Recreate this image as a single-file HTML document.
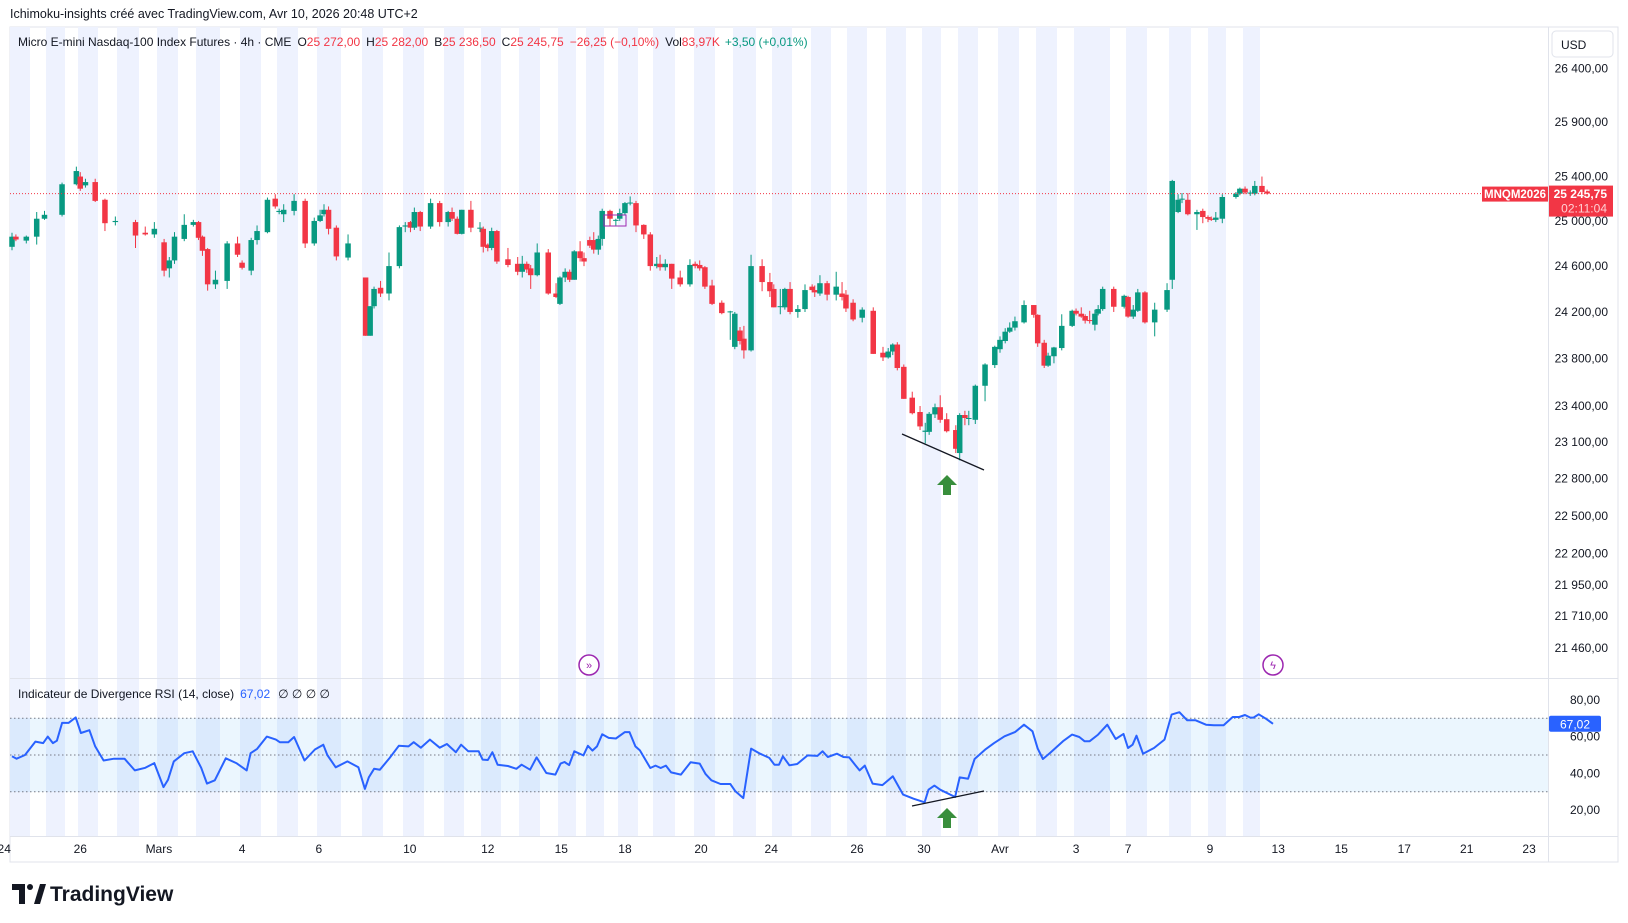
<!DOCTYPE html>
<html><head><meta charset="utf-8"><style>
html,body{margin:0;padding:0;background:#fff;}
svg{display:block;font-family:"Liberation Sans",sans-serif;}
</style></head><body>
<svg id="chart" width="1628" height="923" viewBox="0 0 1628 923" xmlns="http://www.w3.org/2000/svg">
<text x="10" y="18" font-size="12.5" fill="#131722">Ichimoku-insights créé avec TradingView.com, Avr 10, 2026 20:48 UTC+2</text>
<rect x="10" y="27" width="1608" height="835" fill="#fff" stroke="#e0e3eb"/>
<g id="stripes"></g>
<rect x="10" y="718" width="1538" height="74" fill="rgba(33,150,243,0.09)"/>
<g id="grid"></g>
<g id="candles"></g>
<g id="rsi"></g>
<g id="axes"></g>
<line x1="10" y1="678.5" x2="1618" y2="678.5" stroke="#e0e3eb"/>
<line x1="10" y1="836.5" x2="1618" y2="836.5" stroke="#e0e3eb"/>
<line x1="1548.5" y1="27" x2="1548.5" y2="862" stroke="#e0e3eb"/>
<text x="18" y="46" font-size="12" fill="#131722"><tspan>Micro E-mini Nasdaq-100 Index Futures · 4h · CME</tspan><tspan dx="6">O</tspan><tspan fill="#f23645">25 272,00</tspan><tspan dx="6">H</tspan><tspan fill="#f23645">25 282,00</tspan><tspan dx="6">B</tspan><tspan fill="#f23645">25 236,50</tspan><tspan dx="6">C</tspan><tspan fill="#f23645">25 245,75</tspan><tspan dx="6" fill="#f23645">−26,25 (−0,10%)</tspan><tspan dx="6">Vol</tspan><tspan fill="#f23645">83,97K</tspan><tspan dx="5" fill="#089981">+3,50 (+0,01%)</tspan></text>
<text x="18" y="698" font-size="12" fill="#131722"><tspan>Indicateur de Divergence RSI (14, close)</tspan><tspan dx="6" fill="#2962ff">67,02</tspan><tspan dx="8">∅  ∅  ∅  ∅</tspan></text>
<rect x="1552" y="31" width="61" height="26" rx="4" fill="#fff" stroke="#e0e3eb"/>
<text x="1561" y="49" font-size="12" fill="#131722">USD</text>
<g>
<line x1="902" y1="434" x2="984" y2="470" stroke="#131722" stroke-width="1.3"/>
<path d="M947 475 L957 485 L951 485 L951 495 L943 495 L943 485 L937 485 Z" fill="#388e3c"/>
</g>
<g>
<line x1="912" y1="806" x2="984" y2="791" stroke="#131722" stroke-width="1.3"/>
<path d="M947 808 L957 818 L951 818 L951 828 L943 828 L943 818 L937 818 Z" fill="#388e3c"/>
</g>
<rect x="604" y="215" width="22" height="11" fill="none" stroke="#9c27b0" stroke-width="1"/>
<g><circle cx="589" cy="665" r="10" fill="#fff" stroke="#9c27b0" stroke-width="1.5"/><text x="589" y="669" font-size="11" text-anchor="middle" fill="#9c27b0">»</text></g>
<g><circle cx="1273" cy="665" r="10" fill="#fff" stroke="#9c27b0" stroke-width="1.5"/><text x="1273" y="669" font-size="11" text-anchor="middle" fill="#9c27b0">ϟ</text></g>
<g>
<path d="M12 884 H25 V904 H19 V890 H12 Z" fill="#131722"/><circle cx="30" cy="887" r="3" fill="#131722"/><path d="M34 904 L40 884 H46 L40 904 Z" fill="#131722"/>
<text x="50" y="901" font-size="21" font-weight="bold" fill="#131722">TradingView</text>
</g>
</svg>
<script>
const bars=[0.0,0.6,2.2,3.8,5.0,7.7,9.9,10.5,11.3,12.8,14.3,15.9,19.0,20.5,21.9,23.4,24.2,25.0,26.5,27.9,28.7,29.3,30.1,31.3,33.1,34.7,35.4,36.8,37.7,39.3,40.5,41.1,41.8,43.4,45.1,46.5,47.4,48.0,48.7,49.9,51.7,54.4,55.1,55.7,56.7,58.0,59.6,60.5,61.3,61.9,62.8,64.4,
65.8,67.1,67.7,68.5,69.2,70.6,72.0,72.5,73.2,73.8,74.6,76.3,77.8,78.5,79.2,79.8,80.8,82.5,83.7,84.3,85.1,85.8,86.5,87.4,88.0,88.9,89.5,90.2,90.8,92.0,92.9,93.5,94.3,95.1,96.0,97.2,98.2,99.2,99.7,100.5,101.5,102.8,104.3,105.1,105.8,106.6,107.7,109.2,110.5,111.2,112.0,112.6,113.7,115.4,116.6,117.2,118.2,118.9,119.7,120.9,122.0,123.1,123.5,124.3,125.4,126.8,127.7,128.3,129.4,
130.8,132.5,134.0,134.8,135.5,136.2,137.2,138.5,139.7,140.5,141.1,142.0,142.8,143.8,145.2,145.8,146.6,147.2,148.2,149.7,151.2,152.0,152.8,153.5,154.3,155.7,157.2,157.8,158.8,159.4,160.3,161.5,163.1,163.7,164.5,165.1,165.8,166.6,167.1,167.8,169.5,171.1,171.7,172.5,173.2,174.3,175.8,177.7,178.5,179.4,180.0,180.9,182.3,183.2,184.0,184.5,185.2,186.2,188.3,188.9,189.7,190.5,191.2,192.3,193.1];
const opens=[24770,24860,24825,24860,25020,25055,25330,25400,25320,25350,25190,24990,24990,24895,24880,24810,24580,24650,24840,24965,24990,24860,24750,24440,24470,24800,24630,24560,24830,24900,25200,25080,25060,25090,25180,24800,25000,25060,25100,24940,24675,24500,23995,24250,24410,24360,24600,24950,24990,24940,25080,24950,
25160,24990,25080,25020,24885,25100,24940,24930,24790,24760,24910,24660,24620,24550,24620,24580,24520,24720,24360,24270,24500,24550,24480,24730,24670,24830,24830,24745,24840,25090,25010,25020,25070,25160,25160,24965,24880,24600,24620,24590,24620,24500,24440,24620,24610,24590,24430,24280,24200,23900,24040,23970,23870,24600,24460,24400,24250,24240,24400,24200,24225,24420,24390,24360,24450,24350,24360,24350,24280,
24150,24210,23850,23810,23860,23920,23730,23470,23350,23185,23185,23330,23390,23290,23200,23010,23325,23300,23285,23570,23745,23880,23950,24030,24065,24110,24260,24175,23935,23740,23820,23890,24080,24210,24185,24165,24130,24090,24185,24225,24400,24245,24330,24160,24210,24370,24110,24220,24480,25080,25195,25190,25060,25090,25035,25020,25010,25020,25215,25245,25290,25255,25245,25315,25265];
const closes=[24860,24835,24860,25020,25055,25330,25450,25290,25350,25180,24980,25000,24870,24880,24930,24560,24650,24860,24965,24990,24850,24735,24440,24480,24800,24700,24585,24830,24910,25190,25130,25090,25100,25180,24800,25000,25050,25100,24930,24685,24800,23995,24250,24400,24360,24600,24945,24960,24940,25080,24950,25160,
24990,25080,25020,24885,25100,24940,24940,24770,24760,24910,24640,24610,24550,24620,24570,24520,24720,24360,24330,24500,24550,24480,24730,24670,24640,24780,24745,24840,25090,25020,25010,25070,25160,25165,24960,24880,24600,24620,24590,24620,24490,24440,24610,24600,24580,24420,24270,24190,24205,24185,23950,23870,24600,24460,24380,24240,24250,24400,24200,24225,24390,24390,24370,24450,24350,24420,24330,24230,24135,
24220,23840,23810,23860,23920,23720,23460,23340,23230,23195,23335,23390,23285,23190,23045,23325,23300,23300,23570,23750,23900,23960,24030,24065,24120,24260,24175,23930,23740,23825,23895,24080,24210,24185,24160,24125,24125,24185,24225,24400,24245,24340,24160,24220,24370,24110,24220,24390,25360,25190,25200,25060,25080,25035,25020,25010,25030,25215,25245,25290,25255,25255,25315,25260,25245.75];
const highs=[24895,24880,24870,25080,25090,25345,25490,25440,25380,25380,25200,25040,25010,24950,24990,24840,24680,24900,25060,25010,25000,24870,24760,24560,24820,24860,24650,24850,24960,25210,25240,25110,25150,25240,25200,25030,25100,25150,25130,24960,24880,24500,24250,24420,24470,24720,24960,24990,25000,25120,25090,25200,
25180,25090,25120,25040,25100,25180,24990,24950,24800,24940,24920,24760,24680,24690,24640,24610,24800,24750,24450,24510,24580,24570,24740,24820,24720,24860,24900,24870,25110,25100,25020,25110,25170,25220,25180,24970,24900,24680,24700,24660,24620,24560,24660,24640,24650,24600,24480,24300,24210,24200,24070,24080,24700,24660,24540,24440,24400,24410,24460,24260,24440,24440,24430,24520,24470,24550,24460,24390,24310,
24240,24240,23900,23890,23930,23940,23750,23520,23400,23260,23350,23420,23490,23340,23240,23340,23360,23360,23580,23760,23910,23990,24060,24110,24160,24300,24260,24180,23960,23850,23900,24180,24220,24230,24240,24180,24210,24220,24260,24420,24420,24350,24340,24260,24400,24380,24280,24450,25370,25240,25250,25250,25100,25110,25050,25040,25080,25240,25260,25300,25310,25275,25360,25400,25282];
const lows=[24740,24820,24800,24790,25010,25040,25320,25270,25300,25170,24910,24960,24760,24870,24850,24510,24500,24620,24820,24950,24830,24690,24385,24400,24400,24680,24570,24520,24790,24890,25110,25060,24990,25050,24760,24780,24990,25040,24880,24650,24650,23995,23995,24230,24330,24300,24580,24900,24900,24920,24910,24930,
24950,24950,25000,24880,24880,24900,24900,24720,24730,24740,24620,24590,24520,24500,24540,24400,24510,24350,24320,24260,24460,24460,24480,24640,24600,24760,24710,24700,24780,24960,24960,25000,25050,25140,24900,24840,24560,24580,24560,24560,24400,24420,24420,24580,24560,24400,24260,24180,23960,23880,23920,23800,23860,24380,24330,24240,24180,24220,24180,24150,24200,24370,24330,24340,24300,24300,24300,24200,24120,
24110,23840,23780,23800,23830,23700,23460,23330,23200,23090,23160,23300,23260,23180,23010,22950,23240,23240,23250,23440,23720,23850,23930,24020,24040,24100,24150,23900,23720,23730,23760,23870,24070,24170,24150,24100,24100,24040,24170,24210,24200,24230,24150,24140,24200,24100,23990,24200,24400,25070,25160,25050,24920,24980,24990,25000,24990,24980,25200,25230,25240,25225,25230,25240,25236.5];
const rsiBars=[0,0.7,2.0,3.6,4.8,5.5,6.3,6.9,7.7,8.7,9.8,10.6,11.9,12.8,14.1,15.7,17.3,18.9,20.5,21.9,23.3,24.0,24.9,26.5,27.8,29.1,30.0,31.2,32.9,34.5,36.1,36.7,37.7,39.2,40.6,41.2,42.5,43.4,45.0,46.6,47.9,48.5,49.8,51.6,53.3,54.3,54.9,55.7,56.6,58.1,59.5,61.0,61.8,62.9,64.3,65.8,66.9,68.3,69.1,70.2,71.8,72.4,73.2,73.9,74.7,76.3,77.6,78.4,79.7,80.7,82.2,83.6,84.4,85.0,85.7,86.5,87.9,88.6,89.3,90.0,90.8,91.8,92.9,94.3,95.0,95.9,
96.6,98.2,99.0,99.8,100.6,101.4,102.9,104.4,105.8,106.7,107.6,109.0,110.5,111.3,112.5,113.7,115.1,116.5,117.3,118.0,118.6,119.6,120.8,122.4,123.9,124.7,125.5,126.9,127.9,128.8,129.8,130.4,131.2,132.4,133.9,135.5,137.1,138.7,140.4,141.0,141.9,142.8,145.1,145.8,147.1,148.1,149.7,151.1,152.7,154.3,155.7,157.0,157.8,158.6,159.7,161.7,163.1,164.2,165.0,165.8,167.1,168.5,169.8,171.0,171.7,172.4,173.0,174.0,175.7,177.3,178.4,179.6,180.8,182.1,183.7,184.9,186.4,187.8,188.8,189.7,190.5,191.0,191.8,192.9,194.0];
const rsiVals=[49.3,48,50,57.3,56.5,60,56.5,57.8,67.5,67.5,70.5,62,63.5,54.7,47,48,48,41.6,43,45.6,32.5,36.5,46.5,51,52,43,34.4,36.2,48.2,45.6,41.6,51,53.3,60,58.4,57,57,59.8,47,53,55.6,50,43.3,46.5,43.3,31.5,37.8,42.5,42,48.4,55,54.7,57,54,58.4,54,56,51.5,55.6,52,52,47.5,47.3,51.5,44.7,44,42.5,44.7,42,48.7,40.2,39.3,45.3,46.2,44.5,52,49.8,55,52.4,54.7,61.3,59.3,59,62.5,62.5,54.7,
52.5,42.9,44.2,42.9,44.2,40.5,39.3,46,45.3,39.6,36.2,34.2,34.2,30.2,26.5,53.5,50.7,48.4,44.7,44.7,49.3,44.4,45.1,49.8,49.5,52,48.9,50.7,48.9,48.7,44.2,41.6,44.2,34.4,33.6,38.4,28.4,26.2,24.2,31.1,33.3,31.1,27.1,37.8,37.1,47.8,52.9,56.5,60.2,62.5,66.5,62.9,53.5,47.8,51.1,57.5,61.1,59.8,57.5,57.5,61.1,66.5,58.7,61.5,53.8,55.6,60.5,50.7,53.8,58.4,72,73.3,68.9,68.9,66.5,66.2,66.2,70.7,70.7,71.8,70.4,70.4,72.2,69.8,67.02];
const priceTicks=[26400,25900,25400,25000,24600,24200,23800,23400,23100,22800,22500,22200,21950,21710,21460];
const rsiTicks=[80,60,40,20];
const timeTickBars=[-1.2,10.5,22.6,35.4,47.2,61.2,73.2,84.5,94.3,106,116.8,130,140.3,152,163.7,171.7,184.3,194.8,204.5,214.2,223.8,233.4];
const timeTickLabels=["24","26","Mars","4","6","10","12","15","18","20","24","26","30","Avr","3","7","9","13","15","17","21","23"];
const stripeRanges=[[10,30],[46,65],[78,98],[117,139],[157,178],[196,220],[240,261],[277,298],[317,341],[362,383],[403,424],[444,464],[481,501],[519,540],[558,576],[586,604],[618,638],[653,675],[694,715],[733,756],[772,792],[811,831],[847,867],[886,906],[922,941],[958,978],[998,1019],[1036,1057],[1074,1110],[1126,1147],[1169,1191],[1208,1226],[1243,1260]];
const lastPrice=25245.75, lastRsi=67.02;

const NS="http://www.w3.org/2000/svg";
function mk(tag,attrs,parent){const e=document.createElementNS(NS,tag);for(const k in attrs)e.setAttribute(k,attrs[k]);parent.appendChild(e);return e;}
const xOf=b=>12+b*6.5;
const yP=p=>68.5+2798*Math.log(26400/p);
const yR=v=>755-(v-50)*1.835;
const fmt=v=>{const s=v.toFixed(2).replace('.',',');const [i,d]=s.split(',');return i.replace(/\B(?=(\d{3})+(?!\d))/g,' ')+','+d;};

const st=document.getElementById('stripes');
stripeRanges.forEach(r=>{const e=mk('rect',{x:r[0],y:27,width:r[1]-r[0],height:809,fill:'#eef2fe'},st);

});

const g=document.getElementById('grid');
[70,50,30].forEach(v=>{const e=mk('line',{x1:10,x2:1548,y1:yR(v),y2:yR(v),stroke:'#787b86','stroke-dasharray':'1.5,2.5','stroke-width':1},g);

});

const cg=document.getElementById('candles');
for(let i=0;i<closes.length;i++){
  const up=closes[i]>=opens[i];const col=up?'#089981':'#f23645';const x=xOf(bars[i]);
  const hi=Math.max(highs[i],opens[i],closes[i]),lo=Math.min(lows[i],opens[i],closes[i]);
  const w=mk('line',{x1:x,x2:x,y1:yP(hi),y2:yP(lo),stroke:col,'stroke-width':1},cg);
  
  
  const yt=yP(Math.max(opens[i],closes[i])),yb=yP(Math.min(opens[i],closes[i]));
  const b=mk('rect',{x:x-2.75,y:yt,width:5.5,height:Math.max(1,yb-yt),fill:col},cg);
  
  
}
const rg=document.getElementById('rsi');
let d='';rsiBars.forEach((b,i)=>{d+=(i?'L':'M')+xOf(b).toFixed(1)+' '+yR(rsiVals[i]).toFixed(1)+' ';});
const rl=mk('path',{d:d,fill:'none',stroke:'#2962ff','stroke-width':2,'stroke-linejoin':'round'},rg);



const ax=document.getElementById('axes');
priceTicks.forEach(p=>{const t=mk('text',{x:1608,y:yP(p)+4,'font-size':12,'text-anchor':'end',fill:'#131722'},ax);t.textContent=fmt(p);

});
rsiTicks.forEach(v=>{const t=mk('text',{x:1600,y:yR(v)+4,'font-size':12,'text-anchor':'end',fill:'#131722'},ax);t.textContent=fmt(v);

});
timeTickBars.forEach((b,i)=>{const t=mk('text',{x:xOf(b),y:853,'font-size':12,'text-anchor':'middle',fill:'#131722'},ax);t.textContent=timeTickLabels[i];

});
const ly=yP(lastPrice);
const pl=mk('line',{x1:10,x2:1482,y1:ly,y2:ly,stroke:'#f23645','stroke-dasharray':'1,2','stroke-width':1},ax);


const sb=mk('rect',{x:1482,y:ly-7,width:66,height:15,fill:'#f23645'},ax);


const st1=mk('text',{x:1515,y:ly+4.5,'font-size':11.5,'font-weight':'bold','text-anchor':'middle',fill:'#fff'},ax);st1.textContent='MNQM2026';
const pb=mk('rect',{x:1549,y:ly-8,width:64,height:31,fill:'#f23645'},ax);


const t1=mk('text',{x:1607,y:ly+4.5,'font-size':12,'font-weight':'bold','text-anchor':'end',fill:'#fff'},ax);t1.textContent=fmt(lastPrice);
const t2=mk('text',{x:1607,y:ly+19,'font-size':12,'text-anchor':'end',fill:'#ffd0d4'},ax);t2.textContent='02:11:04';
const ry=yR(lastRsi);
const rb=mk('rect',{x:1549,y:ry-8,width:52,height:16,rx:2,fill:'#2962ff'},ax);


const rt=mk('text',{x:1575,y:ry+4.5,'font-size':12,'text-anchor':'middle',fill:'#fff'},ax);rt.textContent=fmt(lastRsi);
</script>
</body></html>
